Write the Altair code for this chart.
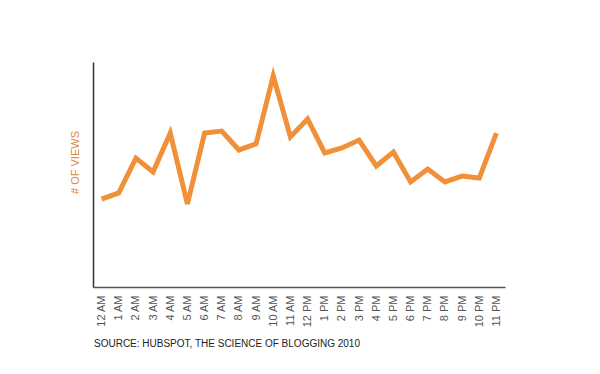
import altair as alt
import pandas as pd

hours = ["12 AM", "1 AM", "2 AM", "3 AM", "4 AM", "5 AM", "6 AM", "7 AM", "8 AM", "9 AM",
         "10 AM", "11 AM", "12 PM", "1 PM", "2 PM", "3 PM", "4 PM", "5 PM", "6 PM", "7 PM",
         "8 PM", "9 PM", "10 PM", "11 PM"]
views = [39.1, 41.8, 57.3, 51.1, 68.4, 36.9, 68.4, 69.3, 60.9, 63.6,
         93.8, 66.7, 74.7, 59.6, 61.8, 65.3, 53.8, 60.0, 46.7, 52.4,
         46.7, 49.3, 48.4, 68.4]
source_text = ["SOURCE: HUBSPOT, THE SCIENCE OF BLOGGING  2010"]

df = pd.DataFrame({"hour": hours, "views": views})

line = alt.Chart(df).mark_line(color="#F0913A", strokeWidth=5, strokeJoin="miter", strokeCap="butt").encode(
    x=alt.X("hour:N", sort=hours,
            scale=alt.Scale(type="point", padding=0.5),
            axis=alt.Axis(title=None, labelAngle=-90, labelAlign="right", labelBaseline="middle",
                          labelColor="#555555", labelFont="Liberation Sans", labelFontSize=11,
                          labelPadding=8, ticks=False, domainColor="#555555", domainWidth=1.5,
                          grid=False)),
    y=alt.Y("views:Q", scale=alt.Scale(domain=[0, 100], nice=False),
            axis=alt.Axis(title="# OF VIEWS", titleColor="#D9893E", titleFont="Liberation Sans",
                          titleFontSize=11, titleFontWeight="normal", titleAngle=-90,
                          titleX=-18, titleY=100, titleAlign="center", titleBaseline="middle",
                          labels=False, ticks=False, grid=False,
                          domainColor="#333333", domainWidth=1.5)),
)

src = alt.Chart(pd.DataFrame({"t": source_text})).mark_text(
    align="left", baseline="middle", font="Liberation Sans", fontSize=10, color="#222222"
).encode(text="t:N", x=alt.value(1), y=alt.value(282))

chart = alt.layer(line, src).properties(
    width=412, height=225,
    autosize=alt.AutoSizeParams(type="none"),
    padding={"left": 85, "top": 54, "right": 87, "bottom": 79},
).configure(background="white").configure_view(stroke=None, strokeWidth=0)

chart.save("out.html", embed_options={"renderer": "svg", "actions": False})
